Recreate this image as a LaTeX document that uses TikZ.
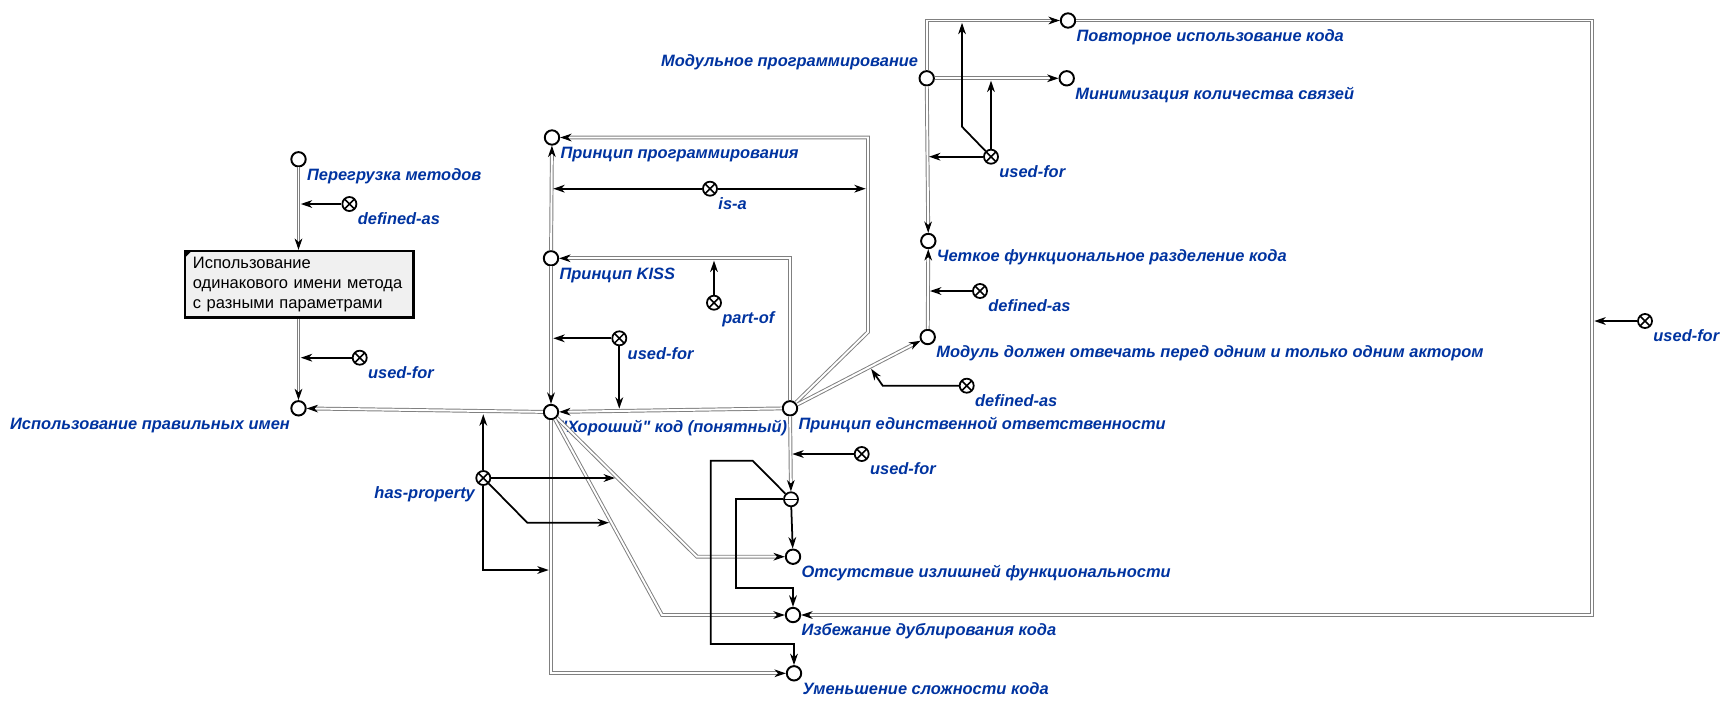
\documentclass[tikz,border=0pt]{standalone}
\usepackage{fontspec}
\setmainfont{Liberation Sans}
\newfontfamily\plainsans{Liberation Sans}
\usepackage{xcolor}
\usepackage{tikz}
\usetikzlibrary{arrows.meta,calc}
\definecolor{lblue}{RGB}{0,51,160}

\begin{document}
\begin{tikzpicture}[x=0.02cm, y=-0.02cm, label distance=2pt,
    concept/.style={circle, draw, line width=1.1pt, minimum size=8.2pt, inner sep=0pt, fill=white},
    rel/.style={circle, draw, line width=1pt, minimum size=8pt, inner sep=0pt, fill=white,
      path picture={\draw[line width=0.9pt] (path picture bounding box.north west) -- (path picture bounding box.south east)
        (path picture bounding box.north east) -- (path picture bounding box.south west);}},
    negrel/.style={circle, draw, line width=1pt, minimum size=8pt, inner sep=0pt, fill=white,
      path picture={\draw[line width=0.9pt] (path picture bounding box.west) -- (path picture bounding box.east);}},
    lbl/.style={font=\plainsans\fontsize{9.35}{11}\selectfont\bfseries\itshape, text=lblue, inner sep=0pt, text height=7pt, text depth=2pt},
    note/.style={rectangle, draw, line width=1.4pt, fill=black!6, minimum width=130pt, minimum height=36.8pt,
      inner xsep=4.5pt, text width=121pt, align=left, font=\plainsans\fontsize{9.4}{11.3}\selectfont},
    link/.style={draw=black!50, double=white, double distance=1.1pt, line width=0.55pt,
      -{Stealth[black, length=6.5pt, width=4.4pt, inset=2pt]}},
    arr/.style={line width=1pt, -{Stealth[length=6.5pt, width=4.4pt, inset=2pt]}},
    toline/.style={arr, shorten >=1.3pt}]
  \useasboundingbox (0,0) rectangle (1727,708);

  \node[concept, label={[lbl]below right:Перегрузка методов}] (Overload) at (298.5,159.3) {};
  \node[note] (SameName) at (299.2,284.2) {Использование\\одинакового имени метода\\с разными параметрами};
  \node[concept, label={[lbl]below left:Использование правильных имен}] (GoodNames) at (298.5,408.3) {};
  \node[concept, label={[lbl]below right:"Хороший" код (понятный)}] (GoodCode) at (551,412) {};
  \node[concept, label={[lbl]below right:Принцип программирования}] (Principle) at (552,137.5) {};
  \node[concept, label={[lbl]below right:Принцип KISS}] (Kiss) at (551,258.3) {};
  \node[concept, label={[lbl]below right:Принцип единственной ответственности}] (Srp) at (790,408.3) {};
  \node[concept, label={[lbl]below right:Модуль должен отвечать перед одним и только одним актором}] (OneActor) at (927.7,337) {};
  \node[concept, label={[lbl]below right:Четкое функциональное разделение кода}] (ClearSplit) at (928.3,241) {};
  \node[concept, label={[lbl]above left:Модульное программирование}] (Modular) at (926.7,78.3) {};
  \node[concept, label={[lbl]below right:Повторное использование кода}] (Reuse) at (1068,20.5) {};
  \node[concept, label={[lbl]below right:Минимизация количества связей}] (FewLinks) at (1066.7,78.3) {};
  \node[concept, label={[lbl]below right:Отсутствие излишней функциональности}] (NoExtra) at (793,556.7) {};
  \node[concept, label={[lbl]below right:Избежание дублирования кода}] (NoDup) at (793,615) {};
  \node[concept, label={[lbl]below right:Уменьшение сложности кода}] (LessComplex) at (794,673.3) {};
  \node[negrel] (Split) at (791,499.3) {};

  \node[rel, label={[lbl]below right:defined-as}] (DefOverload) at (349.4,204) {};
  \node[rel, label={[lbl]below right:used-for}] (UseSameName) at (359.7,357.7) {};
  \node[rel, label={[lbl]below right:is-a}] (IsA) at (710,188.7) {};
  \node[rel, label={[lbl]below right:part-of}] (PartOf) at (714,302.7) {};
  \node[rel, label={[lbl]below right:used-for}] (UseKiss) at (619.3,338.3) {};
  \node[rel, label={[lbl]below right:defined-as}] (DefSrp) at (966.7,385.7) {};
  \node[rel, label={[lbl]below right:defined-as}] (DefActor) at (980,291) {};
  \node[rel, label={[lbl]below right:used-for}] (UseModular) at (991,156.7) {};
  \node[rel, label={[lbl]below right:used-for}] (UseReuse) at (1645,321) {};
  \node[rel, label={[lbl]below right:used-for}] (UseSrp) at (861.7,454) {};
  \node[rel, label={[lbl]below left:has-property}] (HasProp) at (483.3,478) {};

  \coordinate (PrincBend) at (868,332);
  \coordinate (ReuseCorner) at (1592,20.5);
  \coordinate (ExtraBend) at (697,556.7);
  \coordinate (DupBend) at (662,615);
  \coordinate (SrpMid) at ($(Srp)!.715!(GoodCode)$);

  \fill ([shift={(2,2)}]SameName.north west) -- ++(5,0) -- ++(-5,5) -- cycle;

  \draw[link] (Overload) -- (Overload |- SameName.north);
  \draw[link] (SameName.south -| GoodNames) -- (GoodNames);
  \draw[link] (GoodCode) -- (GoodNames);
  \draw[link] (Kiss) -- (Principle);
  \draw[link] (Kiss) -- (GoodCode);
  \draw[link] (Srp) -- (GoodCode);
  \draw[link] (Srp) |- (Kiss);
  \draw[link] (Srp) -- (PrincBend) |- (Principle);
  \draw[link] (Srp) -- (OneActor);
  \draw[link] (OneActor) -- (ClearSplit);
  \draw[link] (Modular) -- (ClearSplit);
  \draw[link] (Modular) |- (Reuse);
  \draw[link] (Modular) -- (FewLinks);
  \draw[link] (Reuse) -- (ReuseCorner) |- (NoDup);
  \draw[link] (Srp) -- (Split);
  \draw[link] (GoodCode) -- (ExtraBend) -- (NoExtra);
  \draw[link] (GoodCode) -- (DupBend) -- (NoDup);
  \draw[link] (GoodCode) |- (LessComplex);

  \draw[toline] (DefOverload) -- (DefOverload -| Overload);
  \draw[toline] (UseSameName) -- (UseSameName -| GoodNames);
  \draw[toline] (IsA) -- (IsA -| Kiss);
  \draw[toline] (IsA) -- (IsA -| PrincBend);
  \draw[toline] (PartOf) -- (PartOf |- Kiss);
  \draw[toline] (UseKiss) -- (UseKiss -| Kiss);
  \draw[toline] (UseKiss) -- (UseKiss |- SrpMid);
  \draw[toline] (DefSrp) -- ++(-84,0) -- ($(Srp)!.58!(OneActor)$);
  \draw[toline] (DefActor) -- (DefActor -| OneActor);
  \draw[toline] (UseModular) -- (UseModular -| Modular);
  \draw[toline] (UseModular) -- (UseModular |- FewLinks);
  \draw[toline] (UseModular) -- ++(-29,-30) coordinate (ReuseUp) -- (ReuseUp |- Reuse);
  \draw[toline] (UseReuse) -- (UseReuse -| ReuseCorner);
  \draw[toline] (UseSrp) -- (UseSrp -| Srp);
  \draw[toline] (HasProp) -- (HasProp |- GoodCode);
  \draw[toline] (HasProp) -- ++(134,0);
  \draw[toline] (HasProp) -- ++(44,44.7) -- ++(84,0);
  \draw[toline] (HasProp) -- ++(0,92) -- ++(67.7,0);

  \draw[arr] (Split) -- (NoExtra);
  \draw[arr] (Split.west) -| (736,588.3) -| (NoDup);
  \draw[arr] (Split.north west) -- (752.7,460.7) -| (710.7,644) -| (LessComplex);
\end{tikzpicture}
\end{document}
